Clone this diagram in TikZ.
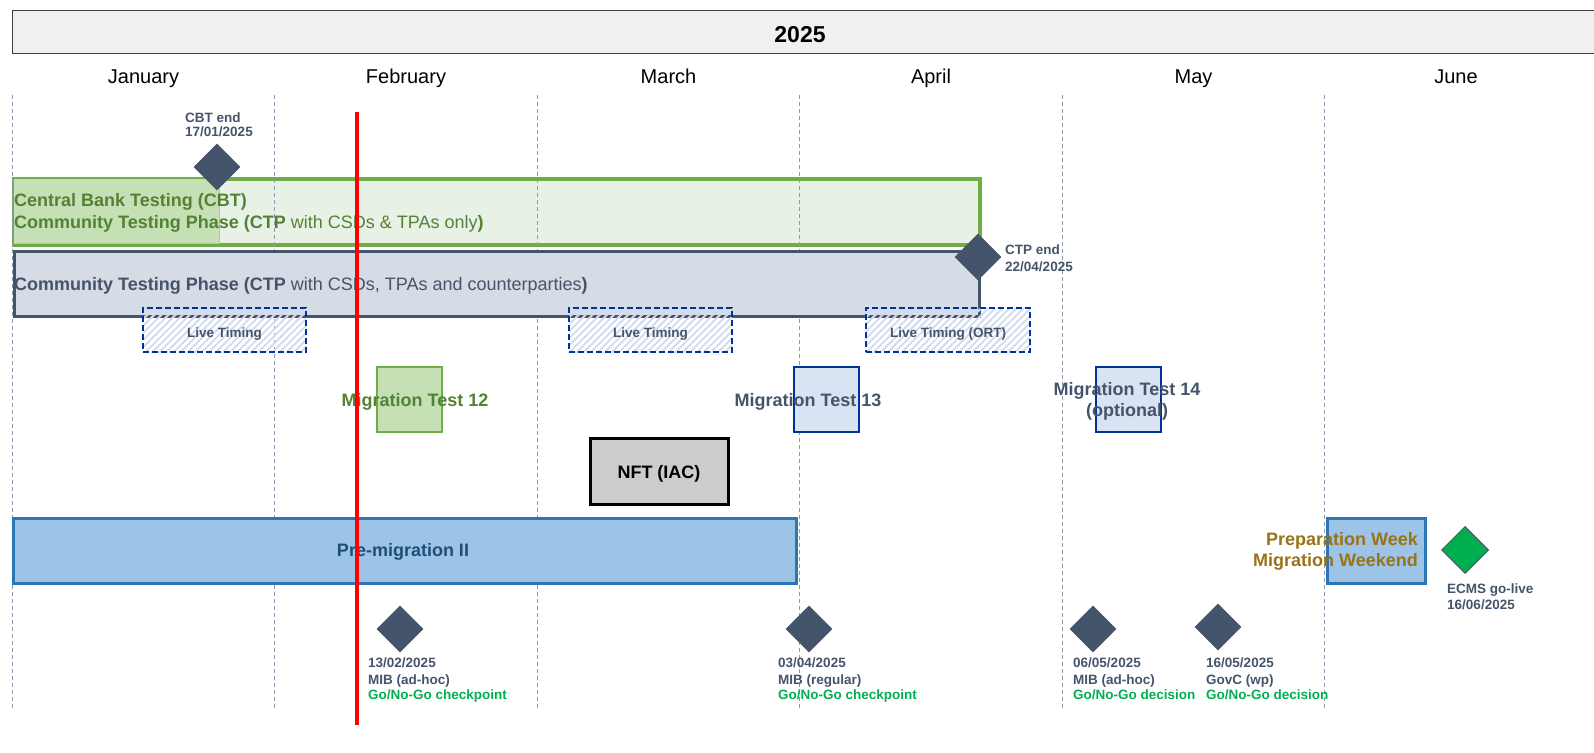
\documentclass[tikz,border=0pt]{standalone}
\usepackage{fontspec}
\setmainfont{Liberation Sans}
\usetikzlibrary{shapes.geometric,patterns.meta}
\definecolor{slate}{HTML}{44546A}
\definecolor{ctpgreen}{HTML}{548235}
\definecolor{greenborder}{HTML}{70AD47}
\definecolor{greenlight}{HTML}{E7F1E5}
\definecolor{greenmid}{HTML}{C5E0B4}
\definecolor{ctpgray}{HTML}{D6DCE5}
\definecolor{navy}{HTML}{003399}
\definecolor{mtblue}{HTML}{DAE3F3}
\definecolor{hatch}{HTML}{D3DCEE}
\definecolor{premigfill}{HTML}{9DC3E6}
\definecolor{premigborder}{HTML}{2E75B6}
\definecolor{premigtext}{HTML}{1F4E79}
\definecolor{preptext}{HTML}{997316}
\definecolor{gonogo}{HTML}{00B050}
\definecolor{gridc}{HTML}{8C9AB0}
\definecolor{hdrfill}{HTML}{F0F0F0}
\definecolor{hdrline}{HTML}{404040}
\definecolor{nftfill}{HTML}{CCCCCC}
\newcommand\fsSmall{\fontsize{13.5}{16}\selectfont\bfseries}
\newcommand\fsBig{\fontsize{18}{22}\selectfont}
\tikzset{
  lbl/.style={font=\fsSmall, text=slate, inner sep=0, anchor=base west},
  golbl/.style={lbl, text=gonogo},
  month/.style={font=\fontsize{20}{24}\selectfont, inner sep=0, anchor=base},
  bartext/.style={font=\fsBig, inner sep=0, anchor=base west},
  boxtext/.style={font=\fsBig\bfseries, inner sep=0, anchor=base},
  mile/.style={diamond, aspect=1, fill=slate, draw=none, minimum width=47, minimum height=47, inner sep=0},
  gridline/.style={draw=gridc, line width=0.8, dash pattern=on 4pt off 3pt},
  livebox/.style={draw=navy, line width=2.5, dash pattern=on 6pt off 3pt,
     pattern={Lines[angle=45,distance=5pt,line width=2pt]}, pattern color=hatch,
     minimum width=163, minimum height=44, inner sep=0},
  livetext/.style={font=\fsSmall, text=slate, inner sep=0, anchor=base},
  mtbox/.style={draw=navy, fill=mtblue, line width=2.5, minimum width=65, minimum height=65, inner sep=0},
  premigbox/.style={draw=premigborder, fill=premigfill, line width=2.5, inner sep=0},
}
\begin{document}
\begin{tikzpicture}[x=1pt,y=-1pt]
\useasboundingbox (0,0) rectangle (1594,752);
% header
\node[draw=hdrline, fill=hdrfill, line width=1.2, minimum width=1590, minimum height=43, inner sep=0, anchor=north west] (hdr) at (12,10) {};
\node[font=\fontsize{23}{27}\selectfont\bfseries, inner sep=0, anchor=base] (year) at (800,42) {2025};
% months
\node[month] (jan) at (143.5,83) {January};
\node[month] (feb) at (406,83) {February};
\node[month] (mar) at (668.5,83) {March};
\node[month] (apr) at (931,83) {April};
\node[month] (may) at (1193.5,83) {May};
\node[month] (jun) at (1456,83) {June};
% green CTP bar
\node[draw=greenborder, fill=greenlight, line width=2.5, minimum width=965, minimum height=65, inner sep=0, anchor=north west] (ctpg) at (13,178) {};
\node[fill=greenmid, draw=greenborder!60, line width=0.8, minimum width=206, minimum height=65, inner sep=0, anchor=north west] (cbt) at (13,178) {};
\draw[draw=greenborder, line width=2.5] (ctpg.north west) rectangle (ctpg.south east);
% grid
\foreach \i in {0,...,5} {
  \draw[gridline] (12+262.5*\i,95) -- (12+262.5*\i,710);
}
% gray CTP bar
\node[draw=slate, fill=ctpgray, line width=3, minimum width=965, minimum height=65, inner sep=0, anchor=north west] (ctp) at (13,250) {};
% bar texts
\node[bartext, text=ctpgreen] (cbtA) at (14,206.5) {\bfseries Central Bank Testing (CBT)};
\node[bartext, text=ctpgreen] (cbtB) at (14,228.5) {\textbf{Community Testing Phase (CTP} with CSDs \& TPAs only\textbf{)}};
\node[bartext, text=slate] (ctpT) at (14,290.5) {\textbf{Community Testing Phase (CTP} with CSDs, TPAs and counterparties\textbf{)}};
% milestones top
\node[mile] (cbtend) at (217,167) {};
\node[lbl] (cbtendA) at (185,122) {CBT end};
\node[lbl] (cbtendB) at (185,136) {17/01/2025};
\node[mile] (ctpend) at (978,257) {};
\node[lbl] (ctpendA) at (1005,254) {CTP end};
\node[lbl] (ctpendB) at (1005,271) {22/04/2025};
% live timing
\node[livebox] (lt1) at (224.5,330) {};
\node[livetext] (lt1t) at (224.5,337) {Live Timing};
\node[livebox] (lt2) at (650.5,330) {};
\node[livetext] (lt2t) at (650.5,337) {Live Timing};
\node[livebox, minimum width=164] (lt3) at (948,330) {};
\node[livetext] (lt3t) at (948,337) {Live Timing (ORT)};
% migration tests
\node[mtbox, draw=greenborder, fill=greenmid] (mt12) at (409.5,399.5) {};
\node[boxtext, text=ctpgreen] (mt12t) at (415,406.5) {Migration Test 12};
\node[mtbox] (mt13) at (826.5,399.5) {};
\node[boxtext, text=slate] (mt13t) at (808,406.5) {Migration Test 13};
\node[mtbox] (mt14) at (1128.5,399.5) {};
\node[boxtext, text=slate] (mt14a) at (1127,395.5) {Migration Test 14};
\node[boxtext, text=slate] (mt14b) at (1127,416.5) {(optional)};
% NFT
\node[draw=black, fill=nftfill, line width=3, minimum width=138, minimum height=66, inner sep=0] (nft) at (659,471) {};
\node[boxtext, text=black] (nftt) at (659,478.5) {NFT (IAC)};
% pre-migration
\node[premigbox, minimum width=783, minimum height=65, anchor=north west] (premig) at (12,517) {};
\node[boxtext, text=premigtext] (premigt) at (403,556.5) {Pre-migration II};
\node[premigbox, minimum width=98, minimum height=65, anchor=north west] (prep) at (1326,517) {};
\node[boxtext, text=preptext, anchor=base east] (prepA) at (1418,545.5) {Preparation Week};
\node[boxtext, text=preptext, anchor=base east] (prepB) at (1418,566.5) {Migration Weekend};
% ECMS go-live
\node[mile, fill=gonogo, draw=slate, line width=1] (ecms) at (1465,550) {};
\node[lbl] (ecmsA) at (1447,593) {ECMS go-live};
\node[lbl] (ecmsB) at (1447,609) {16/06/2025};
% bottom milestones
\node[mile] (b1) at (400,629) {};
\node[lbl] (b1a) at (368,667) {13/02/2025};
\node[lbl] (b1b) at (368,684) {MIB (ad-hoc)};
\node[golbl] (b1c) at (368,699) {Go/No-Go checkpoint};
\node[mile] (b2) at (809,629) {};
\node[lbl] (b2a) at (778,667) {03/04/2025};
\node[lbl] (b2b) at (778,684) {MIB (regular)};
\node[golbl] (b2c) at (778,699) {Go/No-Go checkpoint};
\node[mile] (b3) at (1093,629) {};
\node[lbl] (b3a) at (1073,667) {06/05/2025};
\node[lbl] (b3b) at (1073,684) {MIB (ad-hoc)};
\node[golbl] (b3c) at (1073,699) {Go/No-Go decision};
\node[mile] (b4) at (1218,627) {};
\node[lbl] (b4a) at (1206,667) {16/05/2025};
\node[lbl] (b4b) at (1206,684) {GovC (wp)};
\node[golbl] (b4c) at (1206,699) {Go/No-Go decision};
% today line
\coordinate (redT) at (357,112);
\coordinate (redB) at (357,725);
\draw[red, line width=4] (redT) -- (redB);
\end{tikzpicture}
\end{document}
